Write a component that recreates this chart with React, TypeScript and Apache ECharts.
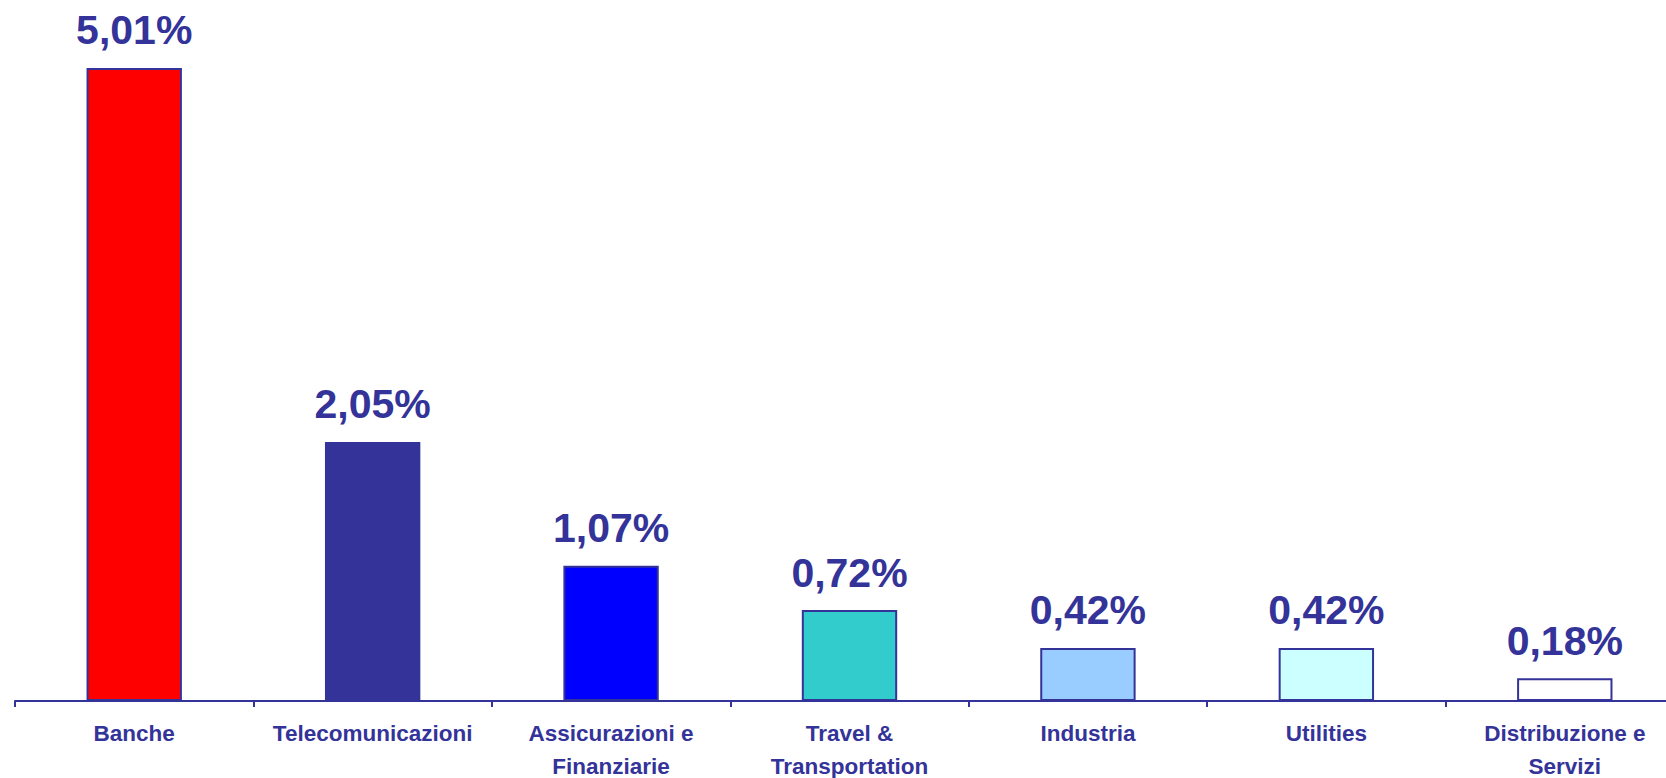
import React, { useEffect, useRef } from "react";
import * as echarts from "echarts";

const categories = [
  "Banche",
  "Telecomunicazioni",
  "Assicurazioni e\nFinanziarie",
  "Travel &\nTransportation",
  "Industria",
  "Utilities",
  "Distribuzione e\nServizi",
];
const values = [5.01, 2.05, 1.07, 0.72, 0.42, 0.42, 0.18];
const barColors = ["#FF0000", "#333399", "#0000FF", "#33CCCC", "#99CCFF", "#CCFFFF", "#FFFFFF"];

const NAVY = "#333399";

export default function App() {
  const ref = useRef<HTMLDivElement>(null);
  useEffect(() => {
    if (!ref.current) return;
    const chart = echarts.init(ref.current, null, { renderer: "svg" });
    chart.setOption({
      animation: false,
      backgroundColor: "#FFFFFF",
      grid: {
        left: 15,
        right: -18,
        top: 6,
        bottom: 77,
        containLabel: false,
        outerBoundsMode: "none",
      },
      xAxis: {
        type: "category",
        data: categories,
        axisLine: { lineStyle: { color: NAVY, width: 2 } },
        axisTick: { show: true, length: 6, lineStyle: { color: NAVY, width: 2 } },
        axisLabel: {
          color: NAVY,
          fontFamily: "Liberation Sans, Arial, sans-serif",
          fontWeight: "bold",
          fontSize: 22.5,
          lineHeight: 33,
          margin: 16,
          interval: 0,
        },
      },
      yAxis: {
        type: "value",
        min: 0,
        max: 5.5,
        show: false,
        splitLine: { show: false },
      },
      series: [
        {
          type: "bar",
          data: values.map((v, i) => ({
            value: v,
            itemStyle: { color: barColors[i] },
          })),
          barWidth: "40%",
          itemStyle: { borderColor: NAVY, borderWidth: 2 },
          label: {
            show: true,
            position: "top",
            distance: 17,
            color: NAVY,
            fontFamily: "Liberation Sans, Arial, sans-serif",
            fontWeight: "bold",
            fontSize: 41,
            formatter: (p: any) => p.value.toFixed(2).replace(".", ",") + "%",
          },
        },
      ],
    });
    return () => chart.dispose();
  }, []);
  return (
    <div
      ref={ref}
      style={{ position: "fixed", left: 0, top: 0, width: 1666, height: 778, background: "#fff" }}
    />
  );
}
